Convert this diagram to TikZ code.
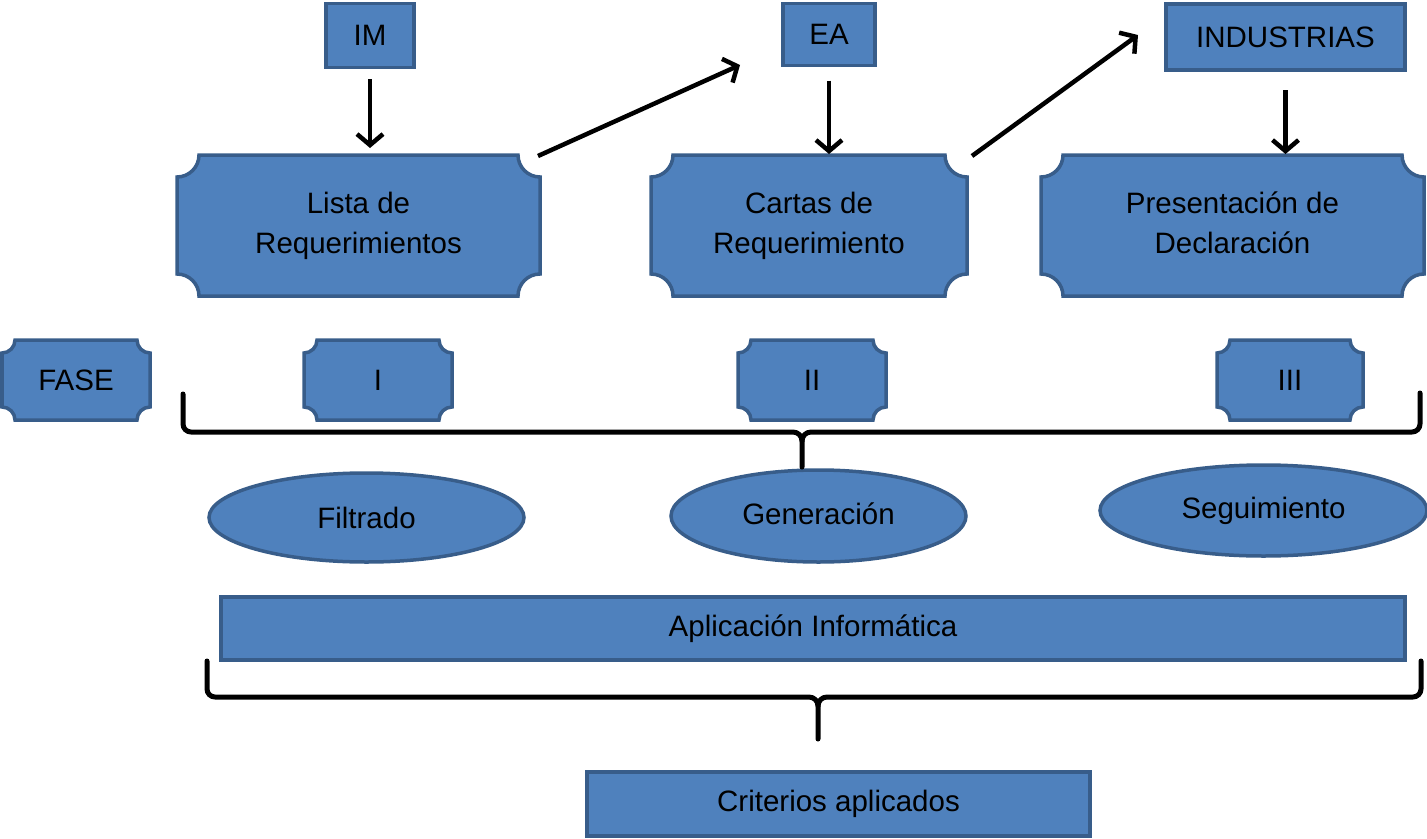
\documentclass[tikz,border=0pt]{standalone}
\usepackage{fontspec}
\setmainfont{Liberation Sans}
\definecolor{boxFill}{HTML}{4F81BD}
\definecolor{boxLine}{HTML}{385D8A}
\usetikzlibrary{calc,positioning,arrows.meta,shapes.geometric,backgrounds}

\newcommand{\boxfont}{\fontsize{29.5}{40}\selectfont}
% plaque outline (concave corners) round a named node
\newcommand{\plaque}[2]{%
  \filldraw[box] ($(#1.north west)+(#2,0)$) -- ($(#1.north east)+(-#2,0)$)
    arc[start angle=180, end angle=270, radius=#2] -- ($(#1.south east)+(0,#2)$)
    arc[start angle=90, end angle=180, radius=#2] -- ($(#1.south west)+(#2,0)$)
    arc[start angle=0, end angle=90, radius=#2] -- ($(#1.north west)+(0,-#2)$)
    arc[start angle=270, end angle=360, radius=#2] -- cycle;}

\tikzset{
  box/.style={fill=boxFill, draw=boxLine, line width=3.5pt},
  label box/.style={inner sep=0pt, outer sep=0pt, align=center, font=\boxfont},
  rect box/.style={label box, box},
  oval/.style={ellipse, label box, box},
  arr/.style={line width=4.5pt, -{Straight Barb[length=11pt, width=26pt]}},
  brace line/.style={line width=5pt, line cap=round, line join=round},
}

\begin{document}
\begin{tikzpicture}[x=1pt, y=1pt]
  \useasboundingbox (0,0) rectangle (1427,-838);

  % sources
  \node[rect box, minimum width=88, minimum height=64] (im) at (370,-35.5) {IM};
  \node[rect box, minimum width=92, minimum height=62] (ea) at (829,-34.5) {EA};
  \node[rect box, minimum width=239, minimum height=66] (ind) at (1285.5,-37) {INDUSTRIAS};

  % documents
  \node[label box, minimum width=363, minimum height=141] (lista) at (358.5,-225.5) {Lista de\\Requerimientos};
  \node[label box, minimum width=316, minimum height=141] (cartas) at (809,-225.5) {Cartas de\\Requerimiento};
  \node[label box, minimum width=383, minimum height=141] (presen) at (1232.5,-225.5) {Presentación de\\Declaración\rule[-6pt]{0pt}{1pt}};

  % phases
  \node[label box, minimum width=148, minimum height=80] (fase) at (76,-380) {FASE};
  \node[label box, minimum width=148, minimum height=80] (faseI) at (378,-380) {I};
  \node[label box, minimum width=148, minimum height=80] (faseII) at (812,-380) {II};
  \node[label box, minimum width=146, minimum height=80] (faseIII) at (1290,-380) {III};

  \begin{scope}[on background layer]
    \foreach \n/\r in {lista/22, cartas/22, presen/22, fase/13, faseI/13, faseII/13, faseIII/13}
      \plaque{\n}{\r};
  \end{scope}

  % stages
  \node[oval, minimum width=315, minimum height=89] (filt) at (366.5,-517.5) {Filtrado};
  \node[oval, minimum width=295, minimum height=92] (gen) at (818.5,-516) {Generación\rule[-5pt]{0pt}{1pt}};
  \node[oval, minimum width=327, minimum height=91] (seg) at (1263.5,-510.5) {Seguimiento};

  \node[rect box, minimum width=1184, minimum height=63] (apl) at (813,-628.5) {Aplicación Informática};
  \node[rect box, minimum width=503, minimum height=64] (crit) at (838.5,-804) {Criterios aplicados};

  % arrows
  \draw[arr, shorten <=11.5pt, shorten >=7pt] (im.south) -- (im.south |- lista.north);
  \draw[arr, shorten <=15pt, shorten >=1pt] (ea.south) -- (ea.south |- cartas.north);
  \draw[arr, shorten <=20pt, shorten >=1pt] (ind.south) -- (ind.south |- presen.north);
  \coordinate (toEA) at (740,-65);
  \coordinate (toInd) at (1138,-35);
  \draw[arr] ([xshift=-2pt, yshift=-1pt]lista.north east) -- (toEA);
  \draw[arr] ([xshift=5pt, yshift=-1pt]cartas.north east) -- (toInd);

  % braces
  \draw[brace line] (183,-394) -- (183,-424) to[out=-90, in=180] (191,-432) -- (793,-432)
    to[out=0, in=90] (802,-441) -- (802,-467);
  \draw[brace line] (1420,-393) -- (1420,-424) to[out=-90, in=0] (1412,-432) -- (811,-432)
    to[out=180, in=90] (802,-441);
  \draw[brace line] (207,-661) -- (207,-689) to[out=-90, in=180] (215,-697) -- (809,-697)
    to[out=0, in=90] (818,-706) -- (818,-739);
  \draw[brace line] (1421,-661) -- (1421,-689) to[out=-90, in=0] (1413,-697) -- (827,-697)
    to[out=180, in=90] (818,-706);
\end{tikzpicture}
\end{document}
